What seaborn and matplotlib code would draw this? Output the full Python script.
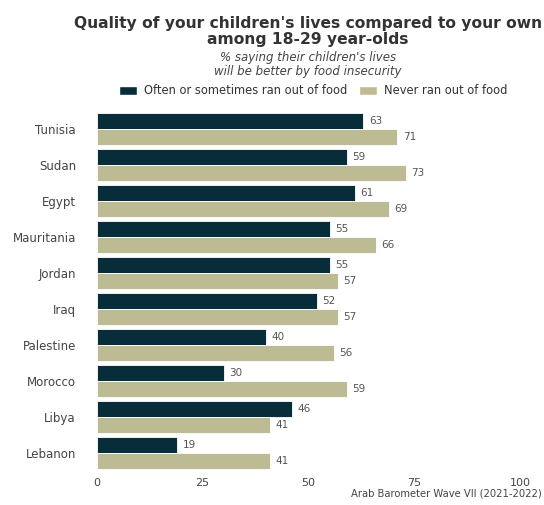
import pandas as pd
import matplotlib
matplotlib.use("Agg")
import matplotlib.pyplot as plt
from matplotlib.patches import Patch
import seaborn as sns

# data
countries = ["Tunisia", "Sudan", "Egypt", "Mauritania", "Jordan", "Iraq",
             "Palestine", "Morocco", "Libya", "Lebanon"]
ran_out = [63, 59, 61, 55, 55, 52, 40, 30, 46, 19]
never_ran_out = [71, 73, 69, 66, 57, 57, 56, 59, 41, 41]
series = ["Often or sometimes ran out of food", "Never ran out of food"]
colors = ["#072d3b", "#bdbb93"]
x_ticks = [0, 25, 50, 75, 100]

df = pd.DataFrame({
    "Country": countries * 2,
    "Value": ran_out + never_ran_out,
    "Group": [series[0]] * len(countries) + [series[1]] * len(countries),
})

sns.set_style("white")
plt.rcParams["font.family"] = ["DejaVu Sans"]

fig = plt.figure(figsize=(5.44, 5.05), dpi=100)
ax = fig.add_axes([0.178, 0.067, 0.778, 0.713])

sns.barplot(data=df, y="Country", x="Value", hue="Group", orient="h",
            palette=colors, saturation=1, width=0.9, edgecolor="white",
            linewidth=0.6, ax=ax, legend=False)

# value labels
for cont in ax.containers:
    ax.bar_label(cont, fmt="%d", padding=4, fontsize=7.5, color="#555555")

ax.set_xlim(0, 100)
ax.set_xticks(x_ticks)
ax.set_xticklabels([str(t) for t in x_ticks], fontsize=8, color="#444444")
ax.tick_params(axis="y", labelsize=8.5, labelcolor="#444444", length=0, pad=15)
ax.tick_params(axis="x", length=0, pad=5)
ax.set_xlabel("")
ax.set_ylabel("")
ax.set_ylim(len(countries) - 0.5, -0.5)
for s in ax.spines.values():
    s.set_visible(False)

# titles
fig.text(0.566, 0.938, "Quality of your children's lives compared to your own\namong 18-29 year-olds",
         ha="center", va="center", fontsize=11.2, fontweight="bold", color="#333333",
         linespacing=1.05)
fig.text(0.566, 0.872, "% saying their children's lives\nwill be better by food insecurity",
         ha="center", va="center", fontsize=8.5, style="italic", color="#444444",
         linespacing=1.1)

# legend
handles = [Patch(facecolor=c, label=l) for c, l in zip(colors, series)]
fig.legend(handles=handles, loc="center", bbox_to_anchor=(0.576, 0.82), ncol=2,
           frameon=False, fontsize=8.3, handlelength=1.6, handleheight=0.9,
           columnspacing=1.0, handletextpad=0.6, labelcolor="#333333")

fig.text(0.996, 0.012, "Arab Barometer Wave VII (2021-2022)", ha="right", va="bottom",
         fontsize=7.2, color="#444444")

fig.savefig("out.png", dpi=100)
